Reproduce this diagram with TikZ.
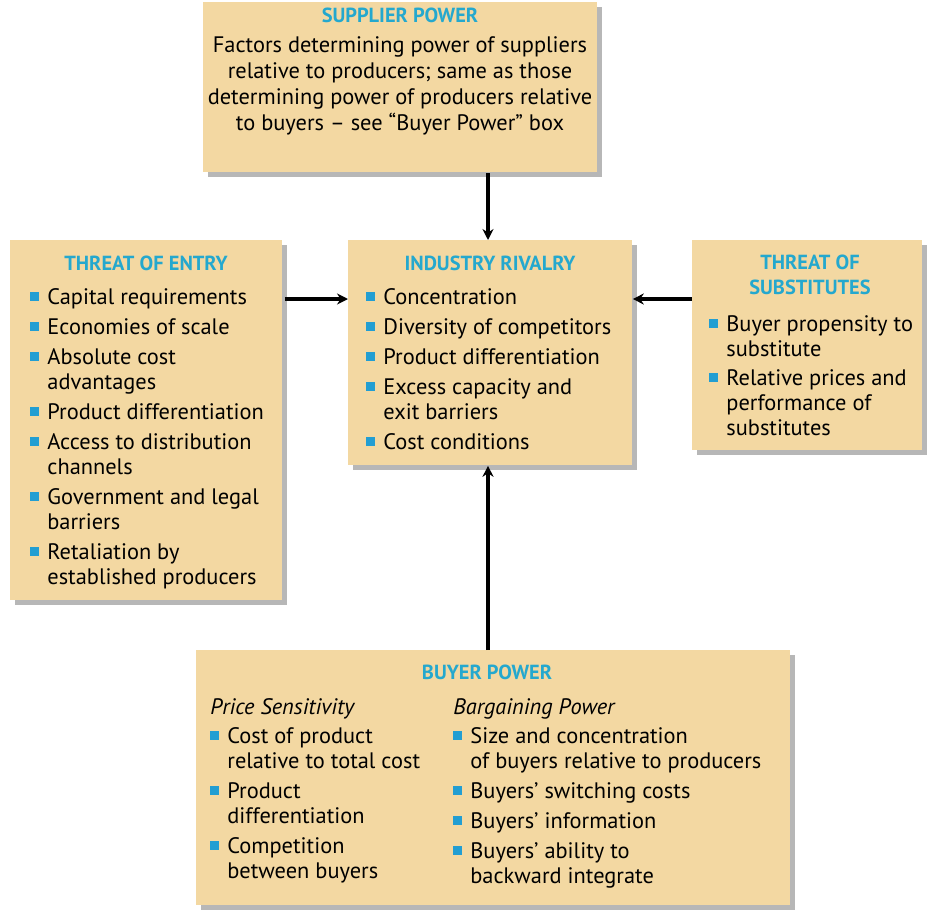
\documentclass[tikz,border=0pt]{standalone}
\usepackage{fontspec}
\setmainfont{PT Sans}
\usetikzlibrary{positioning,shadows,arrows.meta}
\definecolor{boxtan}{RGB}{243,216,162}
\definecolor{headblue}{RGB}{36,168,206}
\definecolor{dotblue}{RGB}{34,158,210}
\newcommand{\bul}{\makebox[8.5pt][l]{\textcolor{dotblue}{\rule[1.8pt]{4.2pt}{4.2pt}}}}
\newcommand{\ind}{\hspace*{8.5pt}}

\begin{document}
\begin{tikzpicture}[x=0.5pt,y=-0.5pt,color=black,
  panel/.style={rectangle,fill=boxtan,inner sep=0pt,anchor=north west,
    drop shadow={shadow xshift=2.5pt,shadow yshift=-2.5pt,opacity=0.4,fill=black!70}},
  head/.style={text=headblue,inner sep=0pt,align=center,font=\fontsize{10.2}{12.5}\selectfont\bfseries},
  body/.style={inner sep=0pt,align=center,font=\fontsize{11.2}{13}\selectfont},
  list/.style={inner sep=0pt,anchor=north west,align=left,font=\fontsize{11.2}{12.5}\selectfont},
  flow/.style={-{Stealth[length=5.5pt,width=5.5pt]},line width=2pt}]
\useasboundingbox (0,0) rectangle (927,910);

% boxes
\node[panel,minimum width=197pt,minimum height=85pt] (supplier) at (203,2) {};
\node[panel,minimum width=136pt,minimum height=180pt] (entry) at (10,240) {};
\node[panel,minimum width=142pt,minimum height=112.5pt] (rivalry) at (348,240) {};
\node[panel,minimum width=115pt,minimum height=105pt] (subst) at (692,240) {};
\node[panel,minimum width=297pt,minimum height=127.5pt] (buyer) at (196,650) {};

% supplier power
\node[head] (supt) at (400,15) {SUPPLIER POWER};
\node[body] (supb) at (400,86) {Factors determining power of suppliers\\
relative to producers; same as those\\
determining power of producers relative\\
to buyers -- see ``Buyer Power'' box};

% threat of entry
\node[head] (entt) at (146,263) {THREAT OF ENTRY};
\node[list] (entl) at (30,288) {\bul Capital requirements\\[2.5pt]
\bul Economies of scale\\[2.5pt]
\bul Absolute cost\\
\ind advantages\\[2.5pt]
\bul Product differentiation\\[2.5pt]
\bul Access to distribution\\
\ind channels\\[2.5pt]
\bul Government and legal\\
\ind barriers\\[2.5pt]
\bul Retaliation by\\
\ind established producers};

% industry rivalry
\node[head] (rivt) at (490,263) {INDUSTRY RIVALRY};
\node[list] (rivl) at (366,288) {\bul Concentration\\[2.5pt]
\bul Diversity of competitors\\[2.5pt]
\bul Product differentiation\\[2.5pt]
\bul Excess capacity and\\
\ind exit barriers\\[2.5pt]
\bul Cost conditions};

% threat of substitutes
\node[head] (subt) at (810,275) {THREAT OF\\SUBSTITUTES};
\node[list] (subl) at (709,315) {\bul Buyer propensity to\\
\ind substitute\\[2pt]
\bul Relative prices and\\
\ind performance of\\
\ind substitutes};

% buyer power
\node[head] (buyt) at (487,672) {BUYER POWER};
\node[list] (buyl) at (210,698) {\textit{Price Sensitivity}\\[2pt]
\bul Cost of product\\
\ind relative to total cost\\[2.5pt]
\bul Product\\
\ind differentiation\\[2.5pt]
\bul Competition\\
\ind between buyers};
\node[list] (buyr) at (453,698) {\textit{Bargaining Power}\\[2pt]
\bul Size and concentration\\
\ind of buyers relative to producers\\[2.5pt]
\bul Buyers' switching costs\\[2.5pt]
\bul Buyers' information\\[2.5pt]
\bul Buyers' ability to\\
\ind backward integrate};

% arrows
\coordinate (ain) at ([yshift=-29.5pt]rivalry.north west);
\draw[flow] (supplier.south -| 488,0) -- (rivalry.north -| 488,0);
\draw[flow] ([xshift=1pt]entry.east |- ain) -- (ain);
\draw[flow] (subst.west |- ain) -- (ain -| rivalry.east);
\draw[flow] (buyer.north -| 488,0) -- (rivalry.south -| 488,0);
\end{tikzpicture}
\end{document}
